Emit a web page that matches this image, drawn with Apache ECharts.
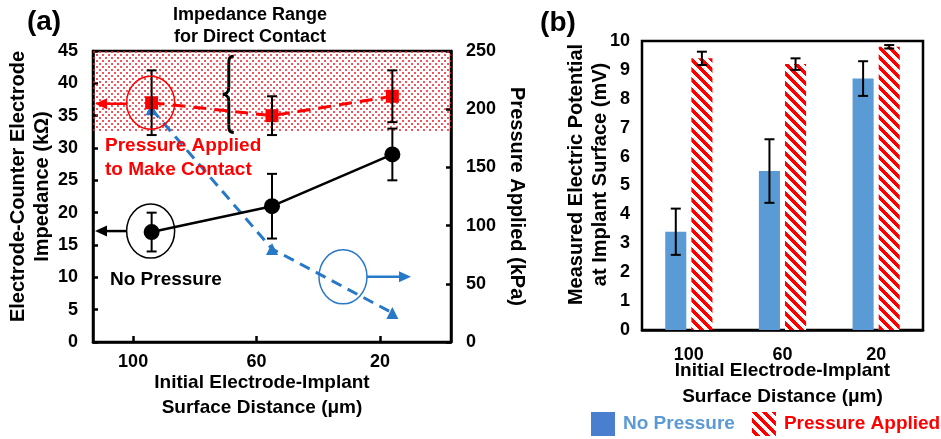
<!DOCTYPE html>
<html lang="en">
<head>
<meta charset="utf-8">
<title>Impedance and electric potential</title>
<script src="https://cdn.jsdelivr.net/npm/echarts@6/dist/echarts.min.js"></script>
<style>
  html, body { margin: 0; padding: 0; background: #fff; }
  #main { width: 941px; height: 439px; }
</style>
</head>
<body>
<div id="main"></div>
<script>
// panel (a): impedance vs initial distance
var distTicks = [100, 60, 20];
var distPoints = [94, 55, 16];
var zNoPressure = [17, 21, 29];
var zNoPressureErr = [3, 5, 4];
var zPressure = [37, 35, 38];
var zPressureErr = [5, 3, 4];
var kPaApplied = [200, 80, 25];
var contactRange = [32.5, 45];

// panel (b): measured potential
var barCats = ['100', '60', '20'];
var vNoPressure = [3.4, 5.5, 8.7];
var vNoPressureErr = [0.8, 1.1, 0.6];
var vPressure = [9.4, 9.2, 9.8];
var vPressureErr = [0.23, 0.2, 0.06];

var FONT = '"Liberation Sans", Arial, sans-serif';
var RED = '#ff0000';
var BLUE = '#2878c8';
var BAR_BLUE = '#5b9bd5';

function dotCanvas() {
    var c = document.createElement('canvas');
    c.width = 6; c.height = 6;
    var g = c.getContext('2d');
    g.fillStyle = '#ee1c24';
    g.beginPath(); g.arc(1, 1, 1, 0, Math.PI * 2); g.fill();
    g.beginPath(); g.arc(4, 4, 1, 0, Math.PI * 2); g.fill();
    return c;
}

function hatchCanvas() {
    var s = 10;
    var c = document.createElement('canvas');
    c.width = s; c.height = s;
    var g = c.getContext('2d');
    g.fillStyle = '#fff';
    g.fillRect(0, 0, s, s);
    g.fillStyle = RED;
    for (var x = 0; x < s; x++) {
        for (var y = 0; y < s; y++) {
            if ((((x - y) % s) + s) % s < s / 2) g.fillRect(x, y, 1, 1);
        }
    }
    return c;
}

function renderErr(params, api) {
    var shift = api.value(3) * api.size([1, 0])[0];
    var lo = api.coord([api.value(0), api.value(1)]);
    var hi = api.coord([api.value(0), api.value(2)]);
    var x = lo[0] + shift, w = 5;
    var st = { stroke: '#000', lineWidth: 2 };
    return {
        type: 'group',
        children: [
            { type: 'line', shape: { x1: x, y1: lo[1], x2: x, y2: hi[1] }, style: st },
            { type: 'line', shape: { x1: x - w, y1: lo[1], x2: x + w, y2: lo[1] }, style: st },
            { type: 'line', shape: { x1: x - w, y1: hi[1], x2: x + w, y2: hi[1] }, style: st }
        ]
    };
}

function errData(xs, vals, errs, frac) {
    return vals.map(function (v, i) {
        return [xs[i], v - errs[i], v + errs[i], frac];
    });
}

var axisFont = { color: '#000', fontSize: 18, fontWeight: 'bold', fontFamily: FONT };
var nameFont = { color: '#000', fontSize: 20, fontWeight: 'bold', fontFamily: FONT, lineHeight: 24 };
var blackLine = { onZero: false, lineStyle: { color: '#000', width: 2.5 } };

var chart = echarts.init(document.getElementById('main'));
var barShift = 13 / 93.3;

var option = {
    animation: false,
    grid: [
        { left: 93, top: 51, width: 358, height: 291, show: true, borderColor: '#000', borderWidth: 2.5 },
        { left: 642, top: 41, width: 281, height: 289, show: true, borderColor: '#000', borderWidth: 2.5 }
    ],
    xAxis: [
        {
            type: 'value', gridIndex: 0, inverse: true, min: -3, max: 113,
            axisLine: blackLine,
            axisTick: { inside: true, length: 6, lineStyle: { color: '#000', width: 2.5 }, customValues: distTicks },
            axisLabel: Object.assign({ margin: 11, customValues: distTicks }, axisFont),
            splitLine: { show: false },
            name: 'Initial Electrode-Implant\nSurface Distance (μm)',
            nameLocation: 'middle', nameGap: 28, nameMoveOverlap: false,
            nameTextStyle: Object.assign({}, nameFont, { fontSize: 19, lineHeight: 25, padding: [0, 20, 0, 0] })
        },
        {
            type: 'category', gridIndex: 1, data: barCats,
            axisLine: blackLine,
            axisTick: { show: false },
            axisLabel: Object.assign({ margin: 16 }, axisFont),
            name: 'Initial Electrode-Implant\nSurface Distance (μm)',
            nameLocation: 'middle', nameGap: 28, nameMoveOverlap: false,
            nameTextStyle: Object.assign({}, nameFont, { fontSize: 19, lineHeight: 26 })
        }
    ],
    yAxis: [
        {
            type: 'value', gridIndex: 0, min: 0, max: 45, interval: 5,
            axisLine: blackLine,
            axisTick: { inside: true, length: 5, lineStyle: { color: '#000', width: 2.5 } },
            axisLabel: Object.assign({ margin: 15 }, axisFont),
            splitLine: { show: false },
            name: 'Electrode-Counter Electrode\nImpedance (kΩ)',
            nameLocation: 'middle', nameGap: 39, nameMoveOverlap: false,
            nameTextStyle: Object.assign({}, nameFont, { padding: [0, 0, 0, 20] })
        },
        {
            type: 'value', gridIndex: 0, position: 'right', min: 0, max: 250, interval: 50,
            axisLine: blackLine,
            axisTick: { inside: true, length: 5, lineStyle: { color: '#000', width: 2.5 } },
            axisLabel: Object.assign({ margin: 15 }, axisFont),
            splitLine: { show: false },
            name: 'Pressure Applied (kPa)',
            nameLocation: 'middle', nameGap: 54, nameRotate: -90, nameMoveOverlap: false,
            nameTextStyle: nameFont
        },
        {
            type: 'value', gridIndex: 1, min: 0, max: 10, interval: 1,
            axisLine: blackLine,
            axisTick: { show: false },
            axisLabel: Object.assign({ margin: 12 }, axisFont),
            splitLine: { show: false },
            name: 'Measured Electric Potential\nat Implant Surface (mV)',
            nameLocation: 'middle', nameGap: 30, nameMoveOverlap: false,
            nameTextStyle: Object.assign({}, nameFont, { padding: [0, 0, 0, 22] })
        }
    ],
    legend: {
        left: 591, top: 412, width: 350, padding: 0,
        itemWidth: 24, itemHeight: 24, itemGap: 17,
        icon: 'rect', selectedMode: false,
        textStyle: { fontSize: 19, fontWeight: 'bold', fontFamily: FONT, padding: [0, 0, 0, 3] },
        data: [
            { name: 'No Pressure', textStyle: { color: BAR_BLUE }, itemStyle: { color: '#4a7fd0' } },
            { name: 'Pressure Applied', textStyle: { color: RED } }
        ]
    },
    series: [
        {
            name: 'contact range', type: 'line', xAxisIndex: 0, yAxisIndex: 0, z: 1,
            data: [],
            markArea: {
                silent: true, z: 1,
                itemStyle: { color: { image: dotCanvas(), repeat: 'repeat' } },
                data: [[{ yAxis: contactRange[0] }, { yAxis: contactRange[1] }]]
            }
        },
        {
            name: 'kPa applied', type: 'line', xAxisIndex: 0, yAxisIndex: 1, z: 2,
            data: distPoints.map(function (x, i) { return [x, kPaApplied[i]]; }),
            symbol: 'triangle', symbolSize: 12,
            itemStyle: { color: BLUE },
            lineStyle: { color: BLUE, width: 3, type: [11, 7] }
        },
        {
            name: 'Z no pressure', type: 'line', xAxisIndex: 0, yAxisIndex: 0, z: 3,
            data: distPoints.map(function (x, i) { return [x, zNoPressure[i]]; }),
            symbol: 'circle', symbolSize: 16,
            itemStyle: { color: '#000' },
            lineStyle: { color: '#000', width: 2.5 }
        },
        {
            name: 'Z pressure', type: 'line', xAxisIndex: 0, yAxisIndex: 0, z: 4,
            data: distPoints.map(function (x, i) { return [x, zPressure[i]]; }),
            symbol: 'rect', symbolSize: 13,
            itemStyle: { color: RED },
            lineStyle: { color: RED, width: 3, type: [13, 8] }
        },
        {
            type: 'custom', xAxisIndex: 0, yAxisIndex: 0, z: 5, silent: true,
            renderItem: renderErr, encode: { x: 0, y: [1, 2] },
            data: errData(distPoints, zNoPressure, zNoPressureErr, 0)
        },
        {
            type: 'custom', xAxisIndex: 0, yAxisIndex: 0, z: 5, silent: true,
            renderItem: renderErr, encode: { x: 0, y: [1, 2] },
            data: errData(distPoints, zPressure, zPressureErr, 0)
        },
        {
            name: 'No Pressure', type: 'bar', xAxisIndex: 1, yAxisIndex: 2,
            data: vNoPressure, barWidth: '22.5%', barGap: '24%',
            itemStyle: { color: BAR_BLUE }
        },
        {
            name: 'Pressure Applied', type: 'bar', xAxisIndex: 1, yAxisIndex: 2,
            data: vPressure, barWidth: '22.5%', barGap: '24%',
            itemStyle: { color: { image: hatchCanvas(), repeat: 'repeat' } }
        },
        {
            type: 'custom', xAxisIndex: 1, yAxisIndex: 2, z: 5, silent: true,
            renderItem: renderErr, encode: { x: 0, y: [1, 2] },
            data: errData([0, 1, 2], vNoPressure, vNoPressureErr, -barShift)
        },
        {
            type: 'custom', xAxisIndex: 1, yAxisIndex: 2, z: 5, silent: true,
            renderItem: renderErr, encode: { x: 0, y: [1, 2] },
            data: errData([0, 1, 2], vPressure, vPressureErr, barShift)
        }
    ]
};
chart.setOption(option);

// annotations, anchored on the data
function txt(x, y, text, size, color, align) {
    return {
        type: 'text', x: x, y: y, z: 20,
        style: {
            text: text, fill: color, fontSize: size, fontWeight: 'bold', fontFamily: FONT,
            align: align || 'center', verticalAlign: 'middle', lineHeight: size + 5
        }
    };
}

function arrow(x1, x2, y, color) {
    var dir = x2 < x1 ? 1 : -1;
    return [
        { type: 'line', z: 20, shape: { x1: x1, y1: y, x2: x2 + dir * 8, y2: y }, style: { stroke: color, lineWidth: 2.5 } },
        { type: 'polygon', z: 20, shape: { points: [[x2, y], [x2 + dir * 12, y - 5.5], [x2 + dir * 12, y + 5.5]] }, style: { fill: color } }
    ];
}

function curve(x1, y1, c1x, c1y, c2x, c2y, x2, y2) {
    return {
        type: 'bezierCurve', z: 20,
        shape: { x1: x1, y1: y1, cpx1: c1x, cpy1: c1y, cpx2: c2x, cpy2: c2y, x2: x2, y2: y2 },
        style: { fill: null, stroke: '#000', lineWidth: 3 }
    };
}

var pxA = { xAxisIndex: 0, yAxisIndex: 0 };
var pNo = chart.convertToPixel(pxA, [distPoints[0], zNoPressure[0]]);
var pYes = chart.convertToPixel(pxA, [distPoints[0], zPressure[0]]);
var pBlue = chart.convertToPixel({ xAxisIndex: 0, yAxisIndex: 1 }, [32, 56]);
var leftEdge = chart.convertToPixel({ xAxisIndex: 0 }, 113) + 2;
var bTop = chart.convertToPixel({ yAxisIndex: 0 }, 44.2);
var bBot = chart.convertToPixel({ yAxisIndex: 0 }, 32.4);
var bx = chart.convertToPixel({ xAxisIndex: 0 }, 69);
var bm = (bTop + bBot) / 2;
var rx = 24, ry = 27;

var braceParts = [
    curve(bx + 5, bTop, bx, bTop, bx, bTop + 3, bx, bTop + 8),
    { type: 'line', z: 20, shape: { x1: bx, y1: bTop + 8, x2: bx, y2: bm - 7 }, style: { stroke: '#000', lineWidth: 3 } },
    curve(bx, bm - 7, bx, bm - 2, bx - 3, bm, bx - 6, bm),
    curve(bx - 6, bm, bx - 3, bm, bx, bm + 2, bx, bm + 7),
    { type: 'line', z: 20, shape: { x1: bx, y1: bm + 7, x2: bx, y2: bBot - 8 }, style: { stroke: '#000', lineWidth: 3 } },
    curve(bx, bBot - 8, bx, bBot - 3, bx, bBot, bx + 5, bBot)
];

var graphics = [
    txt(44, 22, '(a)', 28, '#000'),
    txt(558, 23, '(b)', 28, '#000'),
    txt(250, 15, 'Impedance Range', 18, '#000'),
    txt(250, 37, 'for Direct Contact', 18, '#000'),
    txt(105, 158, 'Pressure Applied\nto Make Contact', 19, RED, 'left'),
    txt(110, 280, 'No Pressure', 19, '#000', 'left'),
    { type: 'ellipse', z: 20, shape: { cx: pNo[0] - 1, cy: pNo[1] - 1, rx: rx, ry: ry }, style: { fill: null, stroke: '#000', lineWidth: 1.5 } },
    { type: 'ellipse', z: 20, shape: { cx: pYes[0] - 1, cy: pYes[1], rx: rx, ry: ry - 0.5 }, style: { fill: null, stroke: RED, lineWidth: 1.5 } },
    { type: 'ellipse', z: 20, shape: { cx: pBlue[0], cy: pBlue[1], rx: rx, ry: ry }, style: { fill: null, stroke: BLUE, lineWidth: 1.5 } }
]
    .concat(braceParts)
    .concat(arrow(pNo[0] - 1 - rx, leftEdge, pNo[1] - 1, '#000'))
    .concat(arrow(pYes[0] - 1 - rx, leftEdge, pYes[1] + 1, RED))
    .concat(arrow(pBlue[0] + rx, pBlue[0] + rx + 44, pBlue[1], BLUE));

chart.setOption({ graphic: graphics });
</script>
</body>
</html>
